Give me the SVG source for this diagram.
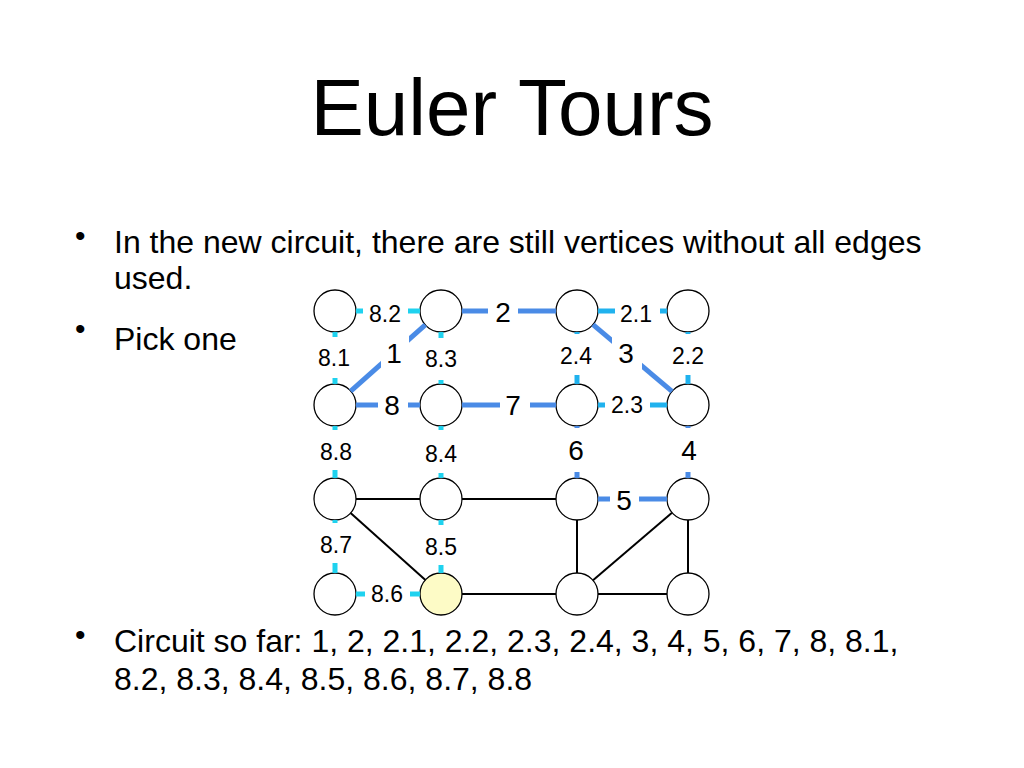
<svg xmlns="http://www.w3.org/2000/svg" width="1024" height="768" viewBox="0 0 1024 768">
<style>
.title{font-family:"Liberation Sans",Arial,sans-serif;font-size:80px;fill:#000}
.body{font-family:"Liberation Sans",Arial,sans-serif;font-size:32px;fill:#000}
.bul{font-family:"Liberation Sans",Arial,sans-serif;font-size:30px;fill:#000}
.node{fill:#fff;stroke:#000;stroke-width:1.3}
.start{fill:#fdfbc6}
.blue{stroke:#4a8be6;stroke-width:5;fill:none}
.cyanA{stroke:#1fd2ef;stroke-width:5;fill:none}
.cyanB{stroke:#20b2ee;stroke-width:5;fill:none}
.black{stroke:#000;stroke-width:2;fill:none}
.lbg{fill:#fff}
.sl{font-family:"Liberation Sans",Arial,sans-serif;font-size:23px;fill:#000;text-anchor:middle}
.bl{font-family:"Liberation Sans",Arial,sans-serif;font-size:28px;fill:#000;text-anchor:middle}
</style>
<rect width="1024" height="768" fill="#fff"/>
<text class="title" x="512" y="135" text-anchor="middle">Euler Tours</text>
<g id="bullets">
<text class="bul" x="75" y="246">•</text>
<text class="body" x="114" y="253">In the new circuit, there are still vertices without all edges</text>
<text class="body" x="114" y="289">used.</text>
<text class="bul" x="75" y="339">•</text>
<text class="body" x="114" y="350">Pick one</text>
<text class="bul" x="75" y="645">•</text>
<text class="body" x="114" y="652">Circuit so far: 1, 2, 2.1, 2.2, 2.3, 2.4, 3, 4, 5, 6, 7, 8, 8.1,</text>
<text class="body" x="114" y="690">8.2, 8.3, 8.4, 8.5, 8.6, 8.7, 8.8</text>
</g>
<g id="nodes">
<circle id="n11" class="node" cx="335" cy="311" r="21"/>
<circle id="n12" class="node" cx="441" cy="311" r="21"/>
<circle id="n13" class="node" cx="577" cy="311" r="21"/>
<circle id="n14" class="node" cx="688" cy="311" r="21"/>
<circle id="n21" class="node" cx="335" cy="405" r="21"/>
<circle id="n22" class="node" cx="441" cy="405" r="21"/>
<circle id="n23" class="node" cx="577" cy="405" r="21"/>
<circle id="n24" class="node" cx="688" cy="405" r="21"/>
<circle id="n31" class="node" cx="335" cy="499" r="21"/>
<circle id="n32" class="node" cx="441" cy="499" r="21"/>
<circle id="n33" class="node" cx="577" cy="499" r="21"/>
<circle id="n34" class="node" cx="688" cy="499" r="21"/>
<circle id="n41" class="node" cx="335" cy="594" r="21"/>
<circle id="n42" class="node start" cx="441" cy="594" r="21"/>
<circle id="n43" class="node" cx="577" cy="594" r="21"/>
<circle id="n44" class="node" cx="688" cy="594" r="21"/>
</g>
<g id="connectors">
<line class="blue" x1="350.7" y1="391.1" x2="425.3" y2="324.9"/>
<line class="blue" x1="462" y1="311" x2="556" y2="311"/>
<line class="blue" x1="593" y1="324.6" x2="672" y2="391.4"/>
<line class="blue" x1="688" y1="426" x2="688" y2="478"/>
<line class="blue" x1="667" y1="499" x2="598" y2="499"/>
<line class="blue" x1="577" y1="478" x2="577" y2="426"/>
<line class="blue" x1="556" y1="405" x2="462" y2="405"/>
<line class="blue" x1="420" y1="405" x2="356" y2="405"/>
<line class="cyanB" x1="598" y1="311" x2="667" y2="311"/>
<line class="cyanB" x1="688" y1="332" x2="688" y2="384"/>
<line class="cyanB" x1="667" y1="405" x2="598" y2="405"/>
<line class="cyanB" x1="577" y1="384" x2="577" y2="332"/>
<line class="cyanA" x1="335" y1="384" x2="335" y2="332"/>
<line class="cyanA" x1="356" y1="311" x2="420" y2="311"/>
<line class="cyanA" x1="441" y1="332" x2="441" y2="384"/>
<line class="cyanA" x1="441" y1="426" x2="441" y2="478"/>
<line class="cyanA" x1="441" y1="520" x2="441" y2="573"/>
<line class="cyanA" x1="420" y1="594" x2="356" y2="594"/>
<line class="cyanA" x1="335" y1="573" x2="335" y2="520"/>
<line class="cyanA" x1="335" y1="478" x2="335" y2="426"/>
<line class="black" x1="356" y1="499" x2="420" y2="499"/>
<line class="black" x1="462" y1="499" x2="556" y2="499"/>
<line class="black" x1="350.6" y1="513" x2="425.4" y2="580"/>
<line class="black" x1="462" y1="594" x2="556" y2="594"/>
<line class="black" x1="577" y1="520" x2="577" y2="573"/>
<line class="black" x1="593" y1="580.3" x2="672" y2="512.7"/>
<line class="black" x1="688" y1="520" x2="688" y2="573"/>
<line class="black" x1="598" y1="594" x2="667" y2="594"/>
</g>
<g id="edge-labels">
<rect class="lbg" x="363" y="300" width="45" height="26"/><text class="sl" x="385" y="322">8.2</text>
<rect class="lbg" x="488" y="298" width="30" height="30"/><text class="bl" x="503" y="322">2</text>
<rect class="lbg" x="615" y="300" width="45" height="26"/><text class="sl" x="636" y="322">2.1</text>
<rect class="lbg" x="314" y="337" width="42" height="41"/><text class="sl" x="334" y="366">8.1</text>
<rect class="lbg" x="381" y="336" width="28" height="36"/><text class="bl" x="394" y="363">1</text>
<rect class="lbg" x="420" y="338" width="42" height="42"/><text class="sl" x="441" y="367">8.3</text>
<rect class="lbg" x="556" y="334" width="42" height="41"/><text class="sl" x="576" y="364">2.4</text>
<rect class="lbg" x="612" y="336" width="30" height="36"/><text class="bl" x="626" y="363">3</text>
<rect class="lbg" x="667" y="334" width="42" height="41"/><text class="sl" x="688" y="364">2.2</text>
<rect class="lbg" x="378" y="390" width="30" height="30"/><text class="bl" x="392" y="415">8</text>
<rect class="lbg" x="500" y="390" width="30" height="30"/><text class="bl" x="513" y="415">7</text>
<rect class="lbg" x="605" y="392" width="45" height="26"/><text class="sl" x="627" y="413">2.3</text>
<rect class="lbg" x="314" y="430" width="42" height="40"/><text class="sl" x="336" y="460">8.8</text>
<rect class="lbg" x="420" y="430" width="42" height="43"/><text class="sl" x="441" y="462">8.4</text>
<rect class="lbg" x="560" y="428" width="34" height="44"/><text class="bl" x="576" y="460">6</text>
<rect class="lbg" x="672" y="428" width="34" height="44"/><text class="bl" x="689" y="460">4</text>
<rect class="lbg" x="610" y="484" width="29" height="30"/><text class="bl" x="624" y="510">5</text>
<rect class="lbg" x="314" y="523" width="42" height="40"/><text class="sl" x="336" y="553">8.7</text>
<rect class="lbg" x="420" y="525" width="42" height="40"/><text class="sl" x="441" y="555">8.5</text>
<rect class="lbg" x="365" y="580" width="45" height="28"/><text class="sl" x="387" y="602">8.6</text>
</g>
</svg>
